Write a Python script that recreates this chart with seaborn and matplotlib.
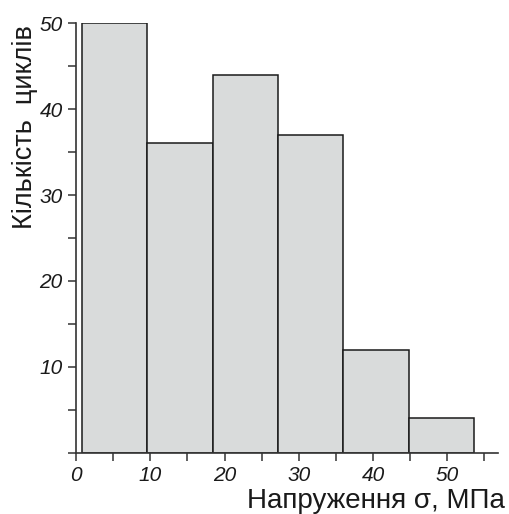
import matplotlib
matplotlib.use("Agg")
import matplotlib.pyplot as plt
import seaborn as sns
import numpy as np
from matplotlib.ticker import MultipleLocator

# Data
bin_edges = [0.8, 9.6, 18.4, 27.2, 36.0, 44.8, 53.6]
counts = [50, 36, 44, 37, 12, 4]
x_ticks = [0, 10, 20, 30, 40, 50]
y_ticks = [10, 20, 30, 40, 50]
x_label = "Напруження σ, МПа"
y_label = "Кількість  циклів"

centers = [(bin_edges[i] + bin_edges[i + 1]) / 2 for i in range(len(counts))]

sns.set_style("ticks")
plt.rcParams['font.family'] = ['Liberation Sans', 'DejaVu Sans']

fig = plt.figure(figsize=(5.10, 5.14), dpi=100)
ax = fig.add_axes([0.149, 0.119, 0.827, 0.836])

sns.histplot(x=centers, weights=counts, bins=bin_edges, ax=ax,
             color="#d9dbdb", alpha=1.0, edgecolor="#1a1a1a", linewidth=1.1)

ax.set_xlim(0, 56.8)
ax.set_ylim(0, 50)
ax.set_xticks(x_ticks)
ax.set_yticks(y_ticks)
ax.xaxis.set_minor_locator(MultipleLocator(5))
ax.yaxis.set_minor_locator(MultipleLocator(5))
ax.tick_params(axis='both', which='both', direction='out', length=6, width=1.1,
               color="#333333")
ax.tick_params(axis='both', which='major', labelsize=15, pad=3.5,
               labelcolor="#1a1a1a")
for lab in ax.get_xticklabels() + ax.get_yticklabels():
    lab.set_fontstyle('italic')

sns.despine(ax=ax)
for s in ['left', 'bottom']:
    ax.spines[s].set_linewidth(1.2)
    ax.spines[s].set_color("#333333")

ax.set_xlabel(x_label, fontsize=20, ha='right', va='baseline', color="#1a1a1a")
ax.xaxis.set_label_coords(1.017, -0.128)
ax.set_ylabel(y_label, fontsize=19.5, ha='right', va='baseline', color="#1a1a1a")
ax.yaxis.set_label_coords(-0.105, 0.996)

fig.savefig("out.png", dpi=100)
